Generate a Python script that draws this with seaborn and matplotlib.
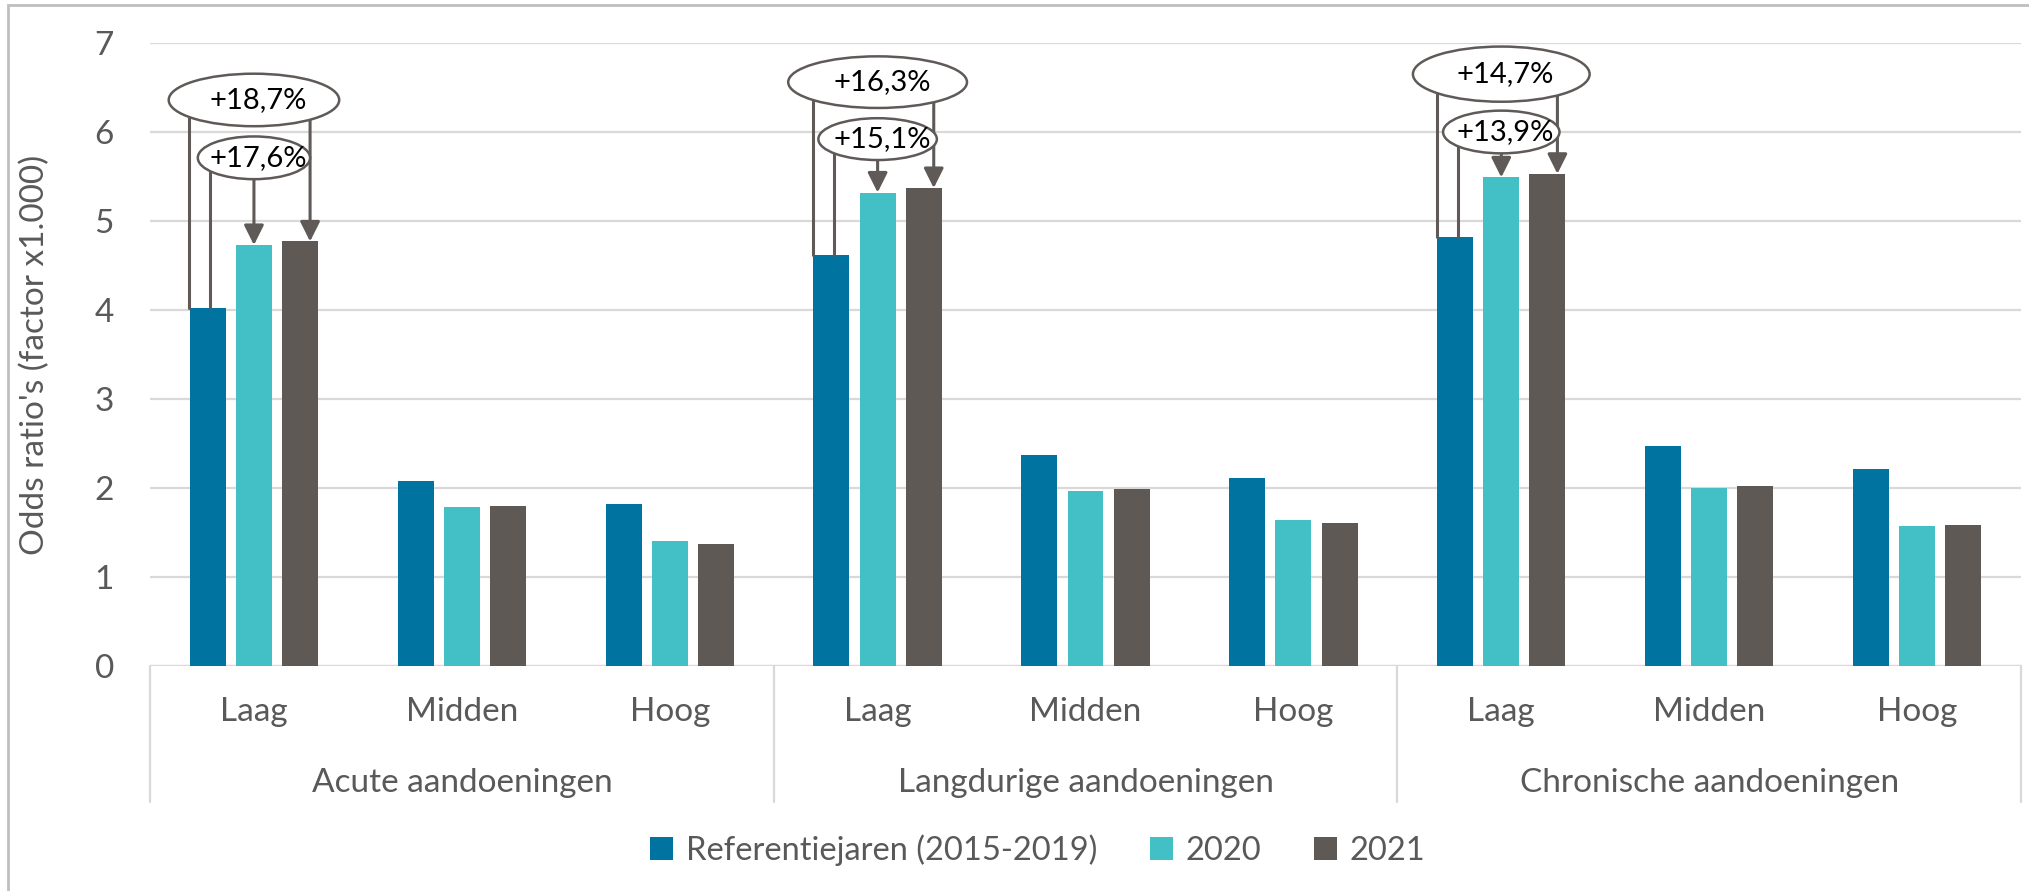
import numpy as np
import pandas as pd
import matplotlib
matplotlib.use("Agg")
import matplotlib.pyplot as plt
import matplotlib.transforms as mtransforms
from matplotlib.patches import Ellipse, Rectangle
import seaborn as sns

# ---------------- data ----------------
groups = ["Acute aandoeningen", "Langdurige aandoeningen", "Chronische aandoeningen"]
levels = ["Laag", "Midden", "Hoog"]
series = ["Referentiejaren (2015-2019)", "2020", "2021"]
ref_vals = [4.02, 2.08, 1.82, 4.62, 2.37, 2.11, 4.82, 2.47, 2.21]
vals_2020 = [4.73, 1.79, 1.40, 5.32, 1.97, 1.64, 5.49, 2.00, 1.57]
vals_2021 = [4.77, 1.80, 1.37, 5.37, 1.99, 1.61, 5.53, 2.02, 1.58]
ann_big = ["+18,7%", "+16,3%", "+14,7%"]
ann_small = ["+17,6%", "+15,1%", "+13,9%"]
y_label = "Odds ratio's (factor x1.000)"

colors = ["#0073A0", "#42C0C6", "#5E5955"]
text_col = "#595959"
grid_col = "#D9D9D9"
line_col = "#5F5A57"

keys = [f"{g}|{l}" for g in groups for l in levels]
rows = []
for s, vals in zip(series, [ref_vals, vals_2020, vals_2021]):
    for k, v in zip(keys, vals):
        rows.append({"key": k, "series": s, "value": v})
df = pd.DataFrame(rows)

# ---------------- figure ----------------
sns.set_theme(style="white")
plt.rcParams["font.family"] = ["Lato", "DejaVu Sans"]

W, H = 2029, 891
fig = plt.figure(figsize=(W / 100, H / 100), dpi=100)
ax_l, ax_r, ax_t, ax_b = 150, 2021, 43, 666
ax = fig.add_axes([ax_l / W, 1 - ax_b / H, (ax_r - ax_l) / W, (ax_b - ax_t) / H])

sns.barplot(data=df, x="key", y="value", hue="series", order=keys, hue_order=series,
            palette=colors, saturation=1, width=0.666, gap=0.22, linewidth=0,
            errorbar=None, ax=ax)

handles, labels = ax.get_legend_handles_labels()
if ax.legend_ is not None:
    ax.legend_.remove()

ax.set_xlim(-0.5, len(keys) - 0.5)
ax.set_ylim(0, 7)
ax.set_yticks(range(0, 8))
ax.set_axisbelow(True)
ax.yaxis.grid(True, color=grid_col, lw=1.6)
ax.xaxis.grid(False)
for sp in ax.spines.values():
    sp.set_visible(False)
ax.axhline(0, color=grid_col, lw=1.6, zorder=0.5)

ax.tick_params(axis="y", length=0, pad=26, labelsize=24, labelcolor=text_col)
ax.set_xticks([])
ax.set_xlabel("")
ax.set_ylabel(y_label, fontsize=24, color=text_col)
ax.yaxis.label.set_va("center")
ax.yaxis.set_label_coords((35 - ax_l) / (ax_r - ax_l), 0.5)

trans = mtransforms.blended_transform_factory(ax.transData, ax.transAxes)
sub_y = -(712 - ax_b) / (ax_b - ax_t)
grp_y = -(783 - ax_b) / (ax_b - ax_t)
sep_y = -(802 - ax_b) / (ax_b - ax_t)
for i, k in enumerate(keys):
    ax.text(i, sub_y, k.split("|")[1], transform=trans, ha="center", va="center",
            fontsize=24, color=text_col)
for gi, g in enumerate(groups):
    ax.text(gi * 3 + 1, grp_y, g, transform=trans, ha="center", va="center",
            fontsize=24, color=text_col)
for xs in [-0.5, 2.5, 5.5, 8.5]:
    ax.plot([xs, xs], [0, sep_y], transform=trans, color=grid_col, lw=1.6, clip_on=False)

# ---------------- annotations ----------------
big_geom = [(6.36, 0.59, 0.82), (6.56, 0.58, 0.86), (6.65, 0.62, 0.85)]
small_geom = [(5.71, 0.48, 0.54), (5.92, 0.47, 0.57), (6.00, 0.48, 0.56)]


def ell_bottom(cx, cy, w, h, x):
    r = 1 - ((x - cx) / (w / 2)) ** 2
    return cy - h / 2 * np.sqrt(max(r, 0.0))


arrow_kw = dict(arrowstyle="-|>,head_length=0.4,head_width=0.2", color=line_col,
                lw=2.2, mutation_scale=30, shrinkA=0, shrinkB=0)
for gi in range(3):
    pos = gi * 3
    r_top, t20, t21 = ref_vals[pos], vals_2020[pos], vals_2021[pos]
    bcy, bh, bw = big_geom[gi]
    scy, sh, sw = small_geom[gi]
    cx = pos
    xl = pos - 0.31
    ax.plot([xl, xl], [ell_bottom(cx, bcy, bw, bh, xl), r_top], color=line_col, lw=2.2, zorder=4)
    xr = pos + 0.27
    ax.annotate("", xy=(xr, t21), xytext=(xr, ell_bottom(cx, bcy, bw, bh, xr)),
                arrowprops=arrow_kw, zorder=4)
    xs_l = pos - 0.21
    ax.plot([xs_l, xs_l], [ell_bottom(cx, scy, sw, sh, xs_l), r_top], color=line_col, lw=2.2, zorder=4)
    xs_a = pos + 0.0
    ax.annotate("", xy=(xs_a, t20), xytext=(xs_a, ell_bottom(cx, scy, sw, sh, xs_a)),
                arrowprops=arrow_kw, zorder=4)
    for (cy, h, w, txt) in [(bcy, bh, bw, ann_big[gi]), (scy, sh, sw, ann_small[gi])]:
        e = Ellipse((cx, cy), w, h, facecolor="white", edgecolor=line_col, lw=1.8, zorder=5)
        ax.add_patch(e)
        ax.text(cx + 0.02, cy, txt, ha="center", va="center", fontsize=21, color="black", zorder=6)

# legend
fig.legend(handles, labels, loc="center", bbox_to_anchor=(1038 / W, 1 - 850 / H), ncol=3,
           frameon=False, fontsize=23.5, handlelength=0.7, handleheight=0.7,
           handletextpad=0.4, columnspacing=1.6, labelcolor=text_col)

# outer border
fig.patches.append(Rectangle((8 / W, -0.05), 1.2, 1 - 5 / H + 0.05, transform=fig.transFigure,
                             fill=False, edgecolor="#BFBFBF", lw=2))

fig.savefig("out.png", dpi=100, facecolor="white")
